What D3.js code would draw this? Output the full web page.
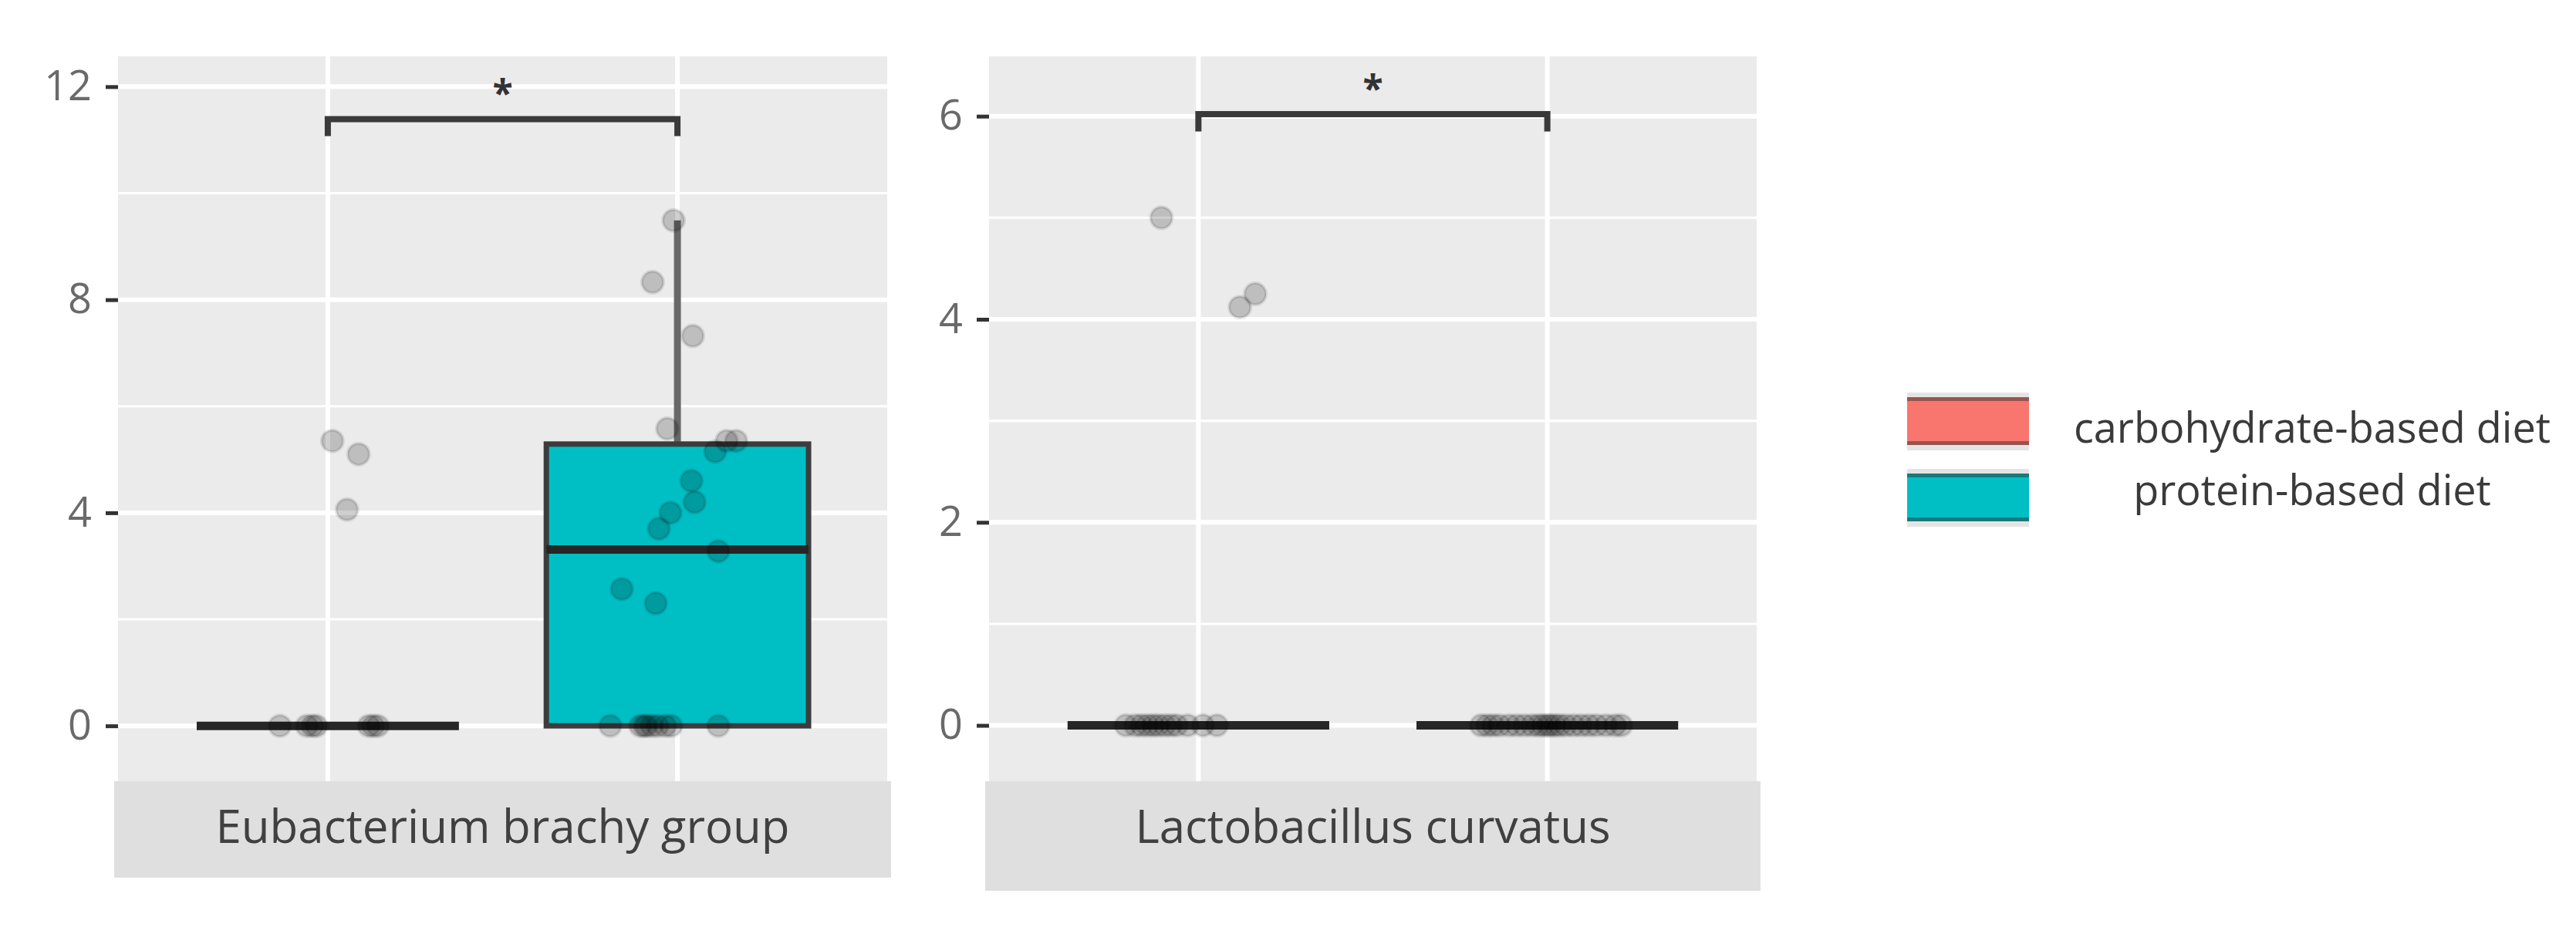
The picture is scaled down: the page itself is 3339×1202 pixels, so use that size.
<!DOCTYPE html>
<html>
<head>
<meta charset="utf-8">
<script src="https://cdn.jsdelivr.net/npm/d3@7"></script>
<style>
  body { margin: 0; background: #fff; }
  svg { display: block; font-family: "Open Sans", "Noto Sans", sans-serif; }
</style>
</head>
<body>
<svg id="chart" width="3339" height="1202"></svg>
<script>
// facets, groups, colours
const facets = ["Eubacterium brachy group", "Lactobacillus curvatus"];
const groups = ["carbohydrate-based diet", "protein-based diet"];
const groupColors = ["#F8766D", "#00BFC4"];

// y axis per facet
const eubTicks = [0, 4, 8, 12];
const eubMinor = [2, 6, 10];
const eubDomain = [-1.04, 12.57];
const lacTicks = [0, 2, 4, 6];
const lacMinor = [1, 3, 5];
const lacDomain = [-0.55, 6.59];

// box stats [lower whisker, q1, median, q3, upper whisker]
const eubCarbBox = [0, 0, 0, 0, 0];
const eubProtBox = [0, 0, 3.31, 5.29, 9.49];
const lacCarbBox = [0, 0, 0, 0, 0];
const lacProtBox = [0, 0, 0, 0, 0];

// jittered points: values and jitter (in category units)
const eubCarbVals = [5.35, 5.10, 4.06, 0, 0, 0, 0, 0, 0, 0];
const eubCarbJit  = [0.013, 0.088, 0.055, -0.137, -0.060, -0.044, -0.033, 0.117, 0.130, 0.143];
const eubProtVals = [9.49, 8.33, 7.32, 5.58, 5.15, 5.35, 5.35, 4.60, 4.20, 4.00, 3.70, 3.28, 2.57, 2.30,
                     0, 0, 0, 0, 0, 0, 0, 0, 0];
const eubProtJit  = [-0.011, -0.071, 0.044, -0.029, 0.108, 0.141, 0.168, 0.040, 0.049, -0.020, -0.053, 0.117, -0.159, -0.062,
                     -0.192, -0.106, -0.095, -0.088, -0.073, -0.057, -0.035, -0.018, 0.117];
const lacCarbVals = [5.00, 4.12, 4.25, 0, 0, 0, 0, 0, 0, 0, 0, 0, 0, 0, 0];
const lacCarbJit  = [-0.106, 0.119, 0.163, -0.208, -0.181, -0.163, -0.146, -0.130, -0.115, -0.097, -0.079, -0.062, -0.031, 0.013, 0.053];
const lacProtVals = [0, 0, 0, 0, 0, 0, 0, 0, 0, 0, 0, 0, 0, 0, 0, 0, 0, 0, 0, 0, 0, 0];
const lacProtJit  = [-0.190, -0.172, -0.155, -0.137, -0.110, -0.088, -0.066, -0.044, -0.026, -0.013, 0, 0.009,
                     0.022, 0.035, 0.053, 0.075, 0.097, 0.119, 0.141, 0.168, 0.194, 0.212];

// significance brackets
const sigLevel = [11.39, 6.02];
const sigTip = [0.32, 0.17];
const sigLabel = ["*", "*"];

const svg = d3.select("#chart");

const panelsSetup = [
  {name: facets[0], left: 153, right: 1150, stripBottom: 1138, ticks: eubTicks, minor: eubMinor, domain: eubDomain,
   boxes: [eubCarbBox, eubProtBox], vals: [eubCarbVals, eubProtVals], jit: [eubCarbJit, eubProtJit], sig: 0},
  {name: facets[1], left: 1282, right: 2277, stripBottom: 1155, ticks: lacTicks, minor: lacMinor, domain: lacDomain,
   boxes: [lacCarbBox, lacProtBox], vals: [lacCarbVals, lacProtVals], jit: [lacCarbJit, lacProtJit], sig: 1}
];
const panelTop = 73, panelBottom = 1013;

panelsSetup.forEach(p => {
  const x = d3.scalePoint().domain(groups).range([p.left, p.right]).padding(0.6);
  const step = x.step();
  const y = d3.scaleLinear().domain(p.domain).range([panelBottom, panelTop]);
  const g = svg.append("g");

  // panel background
  g.append("rect").attr("x", p.left).attr("y", panelTop)
    .attr("width", p.right - p.left).attr("height", panelBottom - panelTop).attr("fill", "#EBEBEB");

  // grid
  g.selectAll(".minor").data(p.minor).enter().append("line")
    .attr("x1", p.left).attr("x2", p.right).attr("y1", d => y(d)).attr("y2", d => y(d))
    .attr("stroke", "#fff").attr("stroke-width", 3);
  g.selectAll(".major").data(p.ticks).enter().append("line")
    .attr("x1", p.left).attr("x2", p.right).attr("y1", d => y(d)).attr("y2", d => y(d))
    .attr("stroke", "#fff").attr("stroke-width", 6);
  g.selectAll(".vgrid").data(groups).enter().append("line")
    .attr("x1", d => x(d)).attr("x2", d => x(d)).attr("y1", panelTop).attr("y2", panelBottom)
    .attr("stroke", "#fff").attr("stroke-width", 6);

  // strip
  g.append("rect").attr("x", p.left - 5).attr("y", panelBottom)
    .attr("width", p.right - p.left + 10).attr("height", p.stripBottom - panelBottom).attr("fill", "#DFDFDF");
  g.append("text").attr("x", (p.left + p.right) / 2).attr("y", 1093)
    .attr("text-anchor", "middle").attr("font-size", 60).attr("fill", "#404040").text(p.name);

  // y axis
  const ax = g.append("g").attr("transform", "translate(" + p.left + ",0)")
    .call(d3.axisLeft(y).tickValues(p.ticks).tickSizeInner(16).tickSizeOuter(0).tickPadding(18));
  ax.select(".domain").remove();
  ax.selectAll(".tick line").attr("stroke", "#333").attr("stroke-width", 5);
  ax.selectAll(".tick text").attr("font-size", 54).attr("fill", "#6a6a6a")
    .attr("font-family", "'Open Sans', 'Noto Sans', sans-serif");

  // boxes
  groups.forEach((grp, i) => {
    const b = p.boxes[i];
    const cx = x(grp), half = step * 0.375;
    if (b[4] > b[3]) {
      g.append("line").attr("x1", cx).attr("x2", cx).attr("y1", y(b[3])).attr("y2", y(b[4]))
        .attr("stroke", "#686868").attr("stroke-width", 9);
    }
    if (b[1] > b[0]) {
      g.append("line").attr("x1", cx).attr("x2", cx).attr("y1", y(b[0])).attr("y2", y(b[1]))
        .attr("stroke", "#686868").attr("stroke-width", 9);
    }
    g.append("rect").attr("x", cx - half).attr("y", y(b[3]))
      .attr("width", half * 2).attr("height", y(b[1]) - y(b[3]))
      .attr("fill", groupColors[i]).attr("stroke", "#3c3c3c").attr("stroke-width", 7);
    g.append("line").attr("x1", cx - half).attr("x2", cx + half).attr("y1", y(b[2])).attr("y2", y(b[2]))
      .attr("stroke", "#262626").attr("stroke-width", 11);
  });

  // jittered points
  groups.forEach((grp, i) => {
    const pts = p.vals[i].map((v, k) => ({v: v, j: p.jit[i][k]}));
    g.selectAll(".pt" + i).data(pts).enter().append("circle")
      .attr("cx", d => x(grp) + d.j * step).attr("cy", d => y(d.v)).attr("r", 14)
      .attr("fill", "rgba(0,0,0,0.19)").attr("stroke", "rgba(0,0,0,0.10)").attr("stroke-width", 4);
  });

  // significance bracket
  const sy = y(sigLevel[p.sig]), sy2 = y(sigLevel[p.sig] - sigTip[p.sig]);
  const x1 = x(groups[0]), x2 = x(groups[1]);
  g.append("path")
    .attr("d", "M" + x1 + "," + sy2 + "V" + sy + "H" + x2 + "V" + sy2)
    .attr("fill", "none").attr("stroke", "#3a3a3a").attr("stroke-width", 8);
  g.append("text").attr("x", (x1 + x2) / 2).attr("y", sy - 16)
    .attr("text-anchor", "middle").attr("font-size", 48).attr("font-weight", 700)
    .attr("fill", "#333").text(sigLabel[p.sig]);
});

// legend
const keyX = 2472, keyW = 158;
const keyTops = [509, 608];
const labelBase = [574, 655];
groups.forEach((grp, i) => {
  const lg = svg.append("g");
  lg.append("rect").attr("x", keyX).attr("y", keyTops[i]).attr("width", keyW).attr("height", 75).attr("fill", "#E4E4E4");
  lg.append("rect").attr("x", keyX).attr("y", keyTops[i] + 6).attr("width", keyW).attr("height", 62)
    .attr("fill", groupColors[i]);
  [keyTops[i] + 8.5, keyTops[i] + 65.5].forEach(ly => {
    lg.append("line").attr("x1", keyX).attr("x2", keyX + keyW).attr("y1", ly).attr("y2", ly)
      .attr("stroke", "#333").attr("stroke-opacity", 0.5).attr("stroke-width", 5);
  });
  lg.append("text").attr("x", 2997).attr("y", labelBase[i]).attr("text-anchor", "middle")
    .attr("font-size", 54).attr("fill", "#3a3a3a").text(grp);
});
</script>
</body>
</html>
